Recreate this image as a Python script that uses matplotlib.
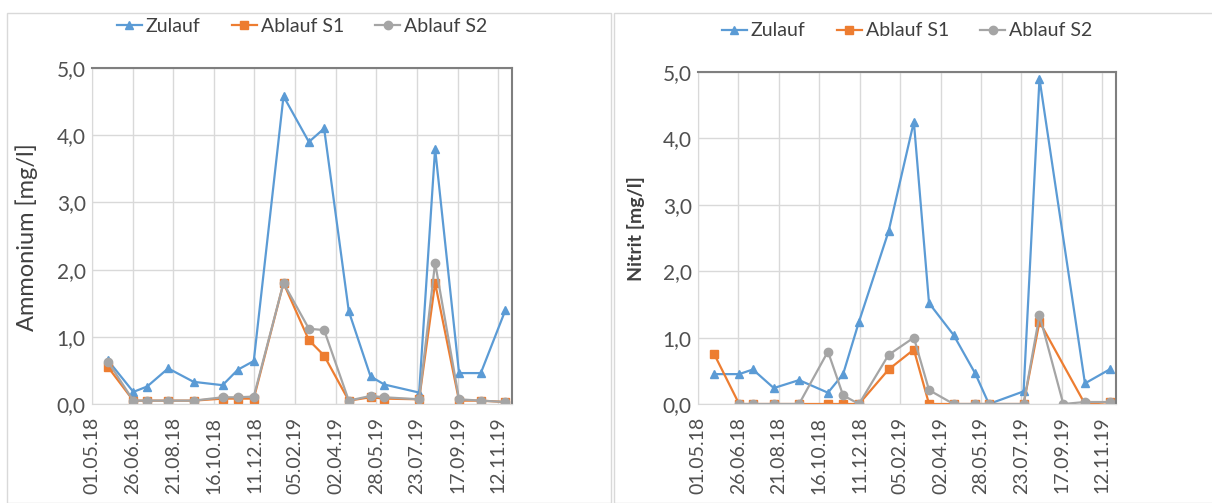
import numpy as np
import pandas as pd
import matplotlib
matplotlib.use("Agg")
import matplotlib.pyplot as plt
import matplotlib.dates as mdates
from matplotlib.ticker import FuncFormatter, MultipleLocator
from matplotlib.patches import Rectangle

plt.rcParams["font.family"] = ["Lato", "DejaVu Sans"]

# sampling dates
dates = pd.to_datetime([
    "2018-05-23", "2018-06-27", "2018-07-16", "2018-08-14", "2018-09-18",
    "2018-10-28", "2018-11-18", "2018-12-10", "2019-01-20", "2019-02-24",
    "2019-03-17", "2019-04-20", "2019-05-20", "2019-06-08", "2019-07-26",
    "2019-08-17", "2019-09-19", "2019-10-19", "2019-11-22",
])

nan = np.nan

# Ammonium [mg/l]
zulauf_nh4 = [0.65, 0.18, 0.26, 0.53, 0.33, 0.28, 0.51, 0.64, 4.58, 3.90,
              4.10, 1.38, 0.41, 0.29, 0.17, 3.80, 0.46, 0.46, 1.40]
s1_nh4 = [0.55, 0.05, 0.05, 0.05, 0.05, 0.08, 0.08, 0.08, 1.80, 0.95,
          0.72, 0.05, 0.10, 0.08, 0.07, 1.80, 0.05, 0.05, 0.03]
s2_nh4 = [0.63, 0.05, 0.05, 0.05, 0.05, 0.10, 0.10, 0.11, 1.80, 1.12,
          1.10, 0.05, 0.12, 0.10, 0.07, 2.10, 0.07, 0.05, 0.03]

# Nitrit [mg/l]
zulauf_no2 = [0.45, 0.45, 0.52, 0.24, 0.36, 0.17, 0.45, 1.24, 2.60, 4.25,
              1.52, 1.04, 0.46, 0.00, 0.19, 4.90, nan, 0.31, 0.52]
s1_no2 = [0.76, 0.00, 0.00, 0.00, 0.00, 0.00, 0.00, 0.00, 0.52, 0.82,
          0.00, 0.00, 0.00, 0.00, 0.00, 1.24, nan, 0.00, 0.03]
s2_no2 = [nan, 0.00, 0.00, 0.00, 0.00, 0.79, 0.13, 0.00, 0.74, 1.00,
          0.21, 0.00, 0.00, 0.00, 0.00, 1.34, 0.00, 0.03, 0.03]

series_names = ["Zulauf", "Ablauf S1", "Ablauf S2"]
colors = ["#5B9BD5", "#ED7D31", "#A5A5A5"]
markers = ["^", "s", "o"]

x_start = pd.Timestamp("2018-05-01")
x_end = x_start + pd.Timedelta(days=579)
tick_dates = pd.date_range(x_start, x_end, freq="56D")

W, H = 1212, 503
fig = plt.figure(figsize=(W / 100, H / 100), dpi=100)

# chart frames
for x0, x1 in [(7, 611), (614, 1216)]:
    fig.patches.append(Rectangle((x0 / W, 0), (x1 - x0) / W, (H - 13) / H,
                                 transform=fig.transFigure, fill=False,
                                 edgecolor="#D9D9D9", linewidth=1.0))


def draw(rect, data, ylabel, label_style, label_pos):
    ax = fig.add_axes(rect)
    for vals, name, c, m in zip(data, series_names, colors, markers):
        v = np.array(vals, dtype=float)
        ok = ~np.isnan(v)
        ax.plot(dates[ok], v[ok], color=c, marker=m, markersize=6,
                linewidth=1.6, label=name)
    ax.set_xlim(x_start, x_end)
    ax.set_ylim(0, 5)
    ax.yaxis.set_major_locator(MultipleLocator(1))
    ax.yaxis.set_major_formatter(FuncFormatter(lambda v, _: f"{v:.1f}".replace(".", ",")))
    ax.set_xticks(tick_dates)
    ax.xaxis.set_major_formatter(mdates.DateFormatter("%d.%m.%y"))
    plt.setp(ax.get_xticklabels(), rotation=90)
    ax.tick_params(axis="both", length=0, colors="#505050")
    ax.tick_params(axis="x", labelsize=14, pad=9)
    ax.tick_params(axis="y", labelsize=15, pad=4.5)
    ax.grid(True, color="#D9D9D9", linewidth=1.0)
    ax.set_axisbelow(True)
    for s in ["left", "bottom"]:
        ax.spines[s].set_color("#D9D9D9")
    for s in ["top", "right"]:
        ax.spines[s].set_color("#7F7F7F")
        ax.spines[s].set_linewidth(1.5)
    ax.set_ylabel(ylabel, color="#404040", **label_style)
    ax.yaxis.set_label_coords(*label_pos)
    ax.legend(loc="lower center", bbox_to_anchor=(0.5, 1.075), ncol=3,
              frameon=False, fontsize=14, handlelength=1.3, columnspacing=1.6,
              handletextpad=0.2, labelcolor="#404040", borderaxespad=0)
    return ax


draw([92 / W, 99 / H, 420 / W, 336 / H], [zulauf_nh4, s1_nh4, s2_nh4],
     "Ammonium [mg/l]", dict(fontsize=17), (-0.129, 0.497))
draw([698 / W, 99 / H, 418 / W, 332 / H], [zulauf_no2, s1_no2, s2_no2],
     "Nitrit [mg/l]", dict(fontsize=14, fontweight="bold"), (-0.127, 0.527))

fig.savefig("out.png", dpi=100)
